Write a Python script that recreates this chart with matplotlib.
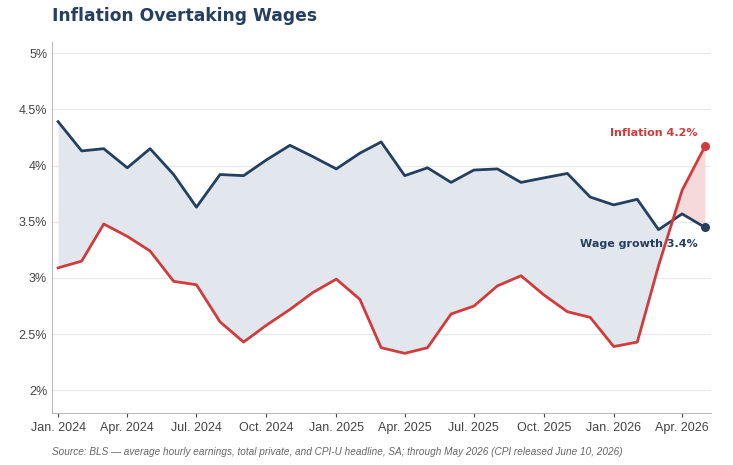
import numpy as np
import pandas as pd
import matplotlib
matplotlib.use("Agg")
import matplotlib.pyplot as plt
from matplotlib.ticker import FuncFormatter

# monthly data, Jan 2024 - May 2026
months = pd.date_range("2024-01-01", periods=29, freq="MS")
wages = [4.39, 4.13, 4.15, 3.98, 4.15, 3.92, 3.63, 3.92, 3.91, 4.05,
         4.18, 4.08, 3.97, 4.11, 4.21, 3.91, 3.98, 3.85, 3.96, 3.97,
         3.85, 3.89, 3.93, 3.72, 3.65, 3.70, 3.43, 3.57, 3.45]
inflation = [3.09, 3.15, 3.48, 3.37, 3.24, 2.97, 2.94, 2.61, 2.43, 2.58,
             2.72, 2.87, 2.99, 2.81, 2.38, 2.33, 2.38, 2.68, 2.75, 2.93,
             3.02, 2.85, 2.70, 2.65, 2.39, 2.43, 3.11, 3.78, 4.17]
tick_dates = pd.date_range("2024-01-01", "2026-04-01", freq="3MS")
tick_labels = ["Jan. 2024", "Apr. 2024", "Jul. 2024", "Oct. 2024", "Jan. 2025",
               "Apr. 2025", "Jul. 2025", "Oct. 2025", "Jan. 2026", "Apr. 2026"]
y_ticks = [2, 2.5, 3, 3.5, 4, 4.5, 5]

navy = "#243f5f"
red = "#d03c3c"
narrow = ["Liberation Sans", "DejaVu Sans"]

fig = plt.figure(figsize=(7.33, 4.65), dpi=100)
ax = fig.add_axes([0.071, 0.112, 0.899, 0.798])

w = np.array(wages)
inf = np.array(inflation)
ax.fill_between(months, w, inf, where=w >= inf, interpolate=True,
                color="#e2e7ee", lw=0)
ax.fill_between(months, w, inf, where=w < inf, interpolate=True,
                color="#f6d9da", lw=0)
ax.plot(months, wages, color=navy, lw=2)
ax.plot(months, inflation, color=red, lw=2)
ax.plot(months[-1], wages[-1], "o", color=navy, ms=5.5)
ax.plot(months[-1], inflation[-1], "o", color=red, ms=5.5)

ax.text(months[-1] - pd.Timedelta(days=10), inflation[-1] + 0.12,
        "Inflation 4.2%", color=red, fontsize=8, fontweight="bold",
        ha="right", va="center")
ax.text(months[-1] - pd.Timedelta(days=10), wages[-1] - 0.15,
        "Wage growth 3.4%", color=navy, fontsize=8, fontweight="bold",
        ha="right", va="center")

ax.set_xlim(months[0] - pd.Timedelta(days=8), months[-1] + pd.Timedelta(days=8))
ax.set_ylim(1.8, 5.1)
ax.set_xticks(tick_dates)
ax.set_xticklabels(tick_labels, family=narrow, fontsize=9)
ax.set_yticks(y_ticks)
ax.yaxis.set_major_formatter(FuncFormatter(lambda v, p: f"{v:g}%"))
for lab in ax.get_yticklabels():
    lab.set_family(narrow)
    lab.set_fontsize(9)
ax.tick_params(colors="#444444", length=3)
ax.tick_params(axis="y", length=0)
ax.grid(axis="y", color="#e8e8e8", lw=0.8)
ax.set_axisbelow(True)
for s in ["top", "right"]:
    ax.spines[s].set_visible(False)
for s in ["left", "bottom"]:
    ax.spines[s].set_color("#bbbbbb")

fig.text(0.071, 0.965, "Inflation Overtaking Wages", fontsize=12.3,
         fontweight="bold", color=navy, va="center")
fig.text(0.071, 0.018, "Source: BLS \u2014 average hourly earnings, total private, and CPI-U headline, SA; "
         "through May 2026 (CPI released June 10, 2026)",
         family=narrow, fontsize=7.2, style="italic", color="#666666", va="bottom")

fig.savefig("out.png", dpi=100)
